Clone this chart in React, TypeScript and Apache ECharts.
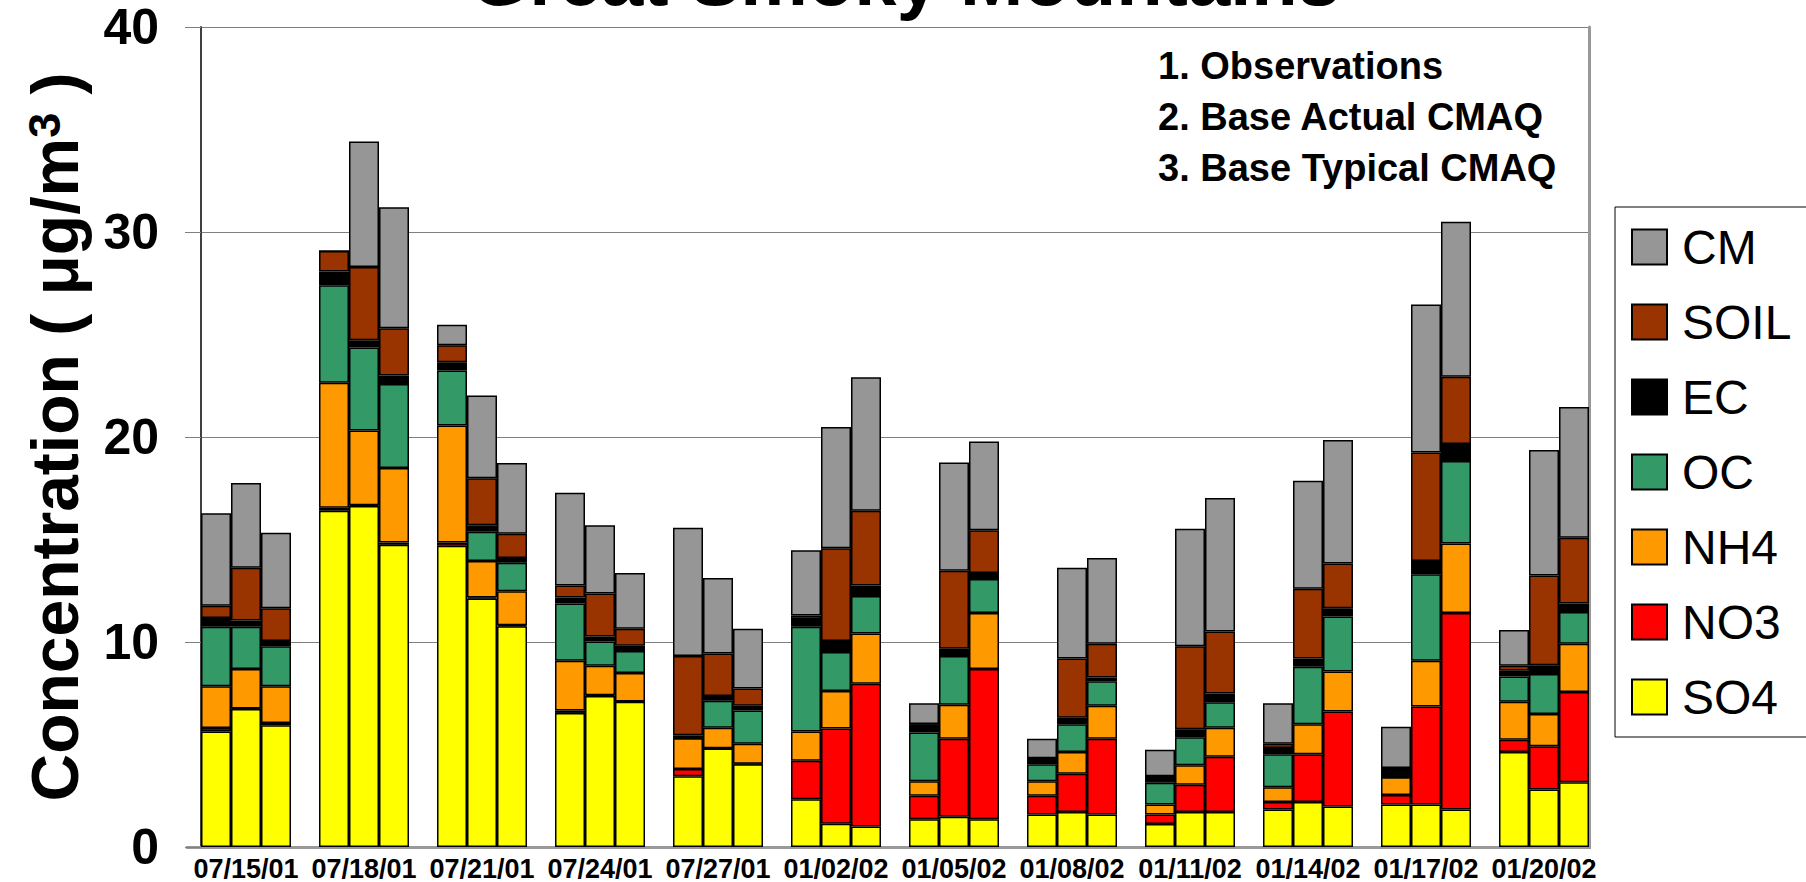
import React, { useEffect, useRef } from "react";
import * as echarts from "echarts";

const DATES = ["07/15/01", "07/18/01", "07/21/01", "07/24/01", "07/27/01", "01/02/02", "01/05/02", "01/08/02", "01/11/02", "01/14/02", "01/17/02", "01/20/02"];
const Y_TICKS = { min: 0, max: 40, interval: 10 };
const RUN_LABELS = ["1. Observations", "2. Base Actual CMAQ", "3. Base Typical CMAQ"];
const COMPONENTS = ["SO4", "NO3", "NH4", "OC", "EC", "SOIL", "CM"];
const LEGEND_ORDER = ["CM", "SOIL", "EC", "OC", "NH4", "NO3", "SO4"];
const COLORS = ["#FFFF00", "#FF0000", "#FF9900", "#339966", "#000000", "#993300", "#969696"];

// Observations
const SO4_OBS = [5.63, 16.4, 14.69, 6.54, 3.45, 2.33, 1.35, 1.59, 1.12, 1.83, 2.07, 4.64];
const NO3_OBS = [0.17, 0.15, 0.16, 0.12, 0.35, 1.88, 1.15, 0.91, 0.47, 0.36, 0.47, 0.59];
const NH4_OBS = [2.04, 6.1, 5.71, 2.42, 1.5, 1.42, 0.71, 0.71, 0.48, 0.73, 0.86, 1.85];
const OC_OBS = [2.9, 4.75, 2.69, 2.8, 0.02, 5.11, 2.38, 0.83, 1.07, 1.6, 0.0, 1.24];
const EC_OBS = [0.43, 0.67, 0.4, 0.29, 0.13, 0.38, 0.4, 0.29, 0.31, 0.31, 0.45, 0.28];
const SOIL_OBS = [0.6, 1.0, 0.83, 0.59, 3.87, 0.17, 0.01, 0.0, 0.0, 0.21, 0.0, 0.24];
const CM_OBS = [4.51, 0.0, 1.0, 4.52, 6.25, 3.19, 1.01, 0.95, 1.3, 1.97, 2.02, 1.74];

// Base Actual CMAQ
const SO4_ACT = [6.73, 16.64, 12.12, 7.37, 4.8, 1.14, 1.47, 1.71, 1.71, 2.19, 2.07, 2.8];
const NO3_ACT = [0.03, 0.03, 0.05, 0.03, 0.02, 4.64, 3.81, 1.86, 1.33, 2.33, 4.78, 2.12];
const NH4_ACT = [1.92, 3.65, 1.78, 1.44, 1.0, 1.83, 1.66, 1.07, 0.95, 1.47, 2.23, 1.57];
const OC_ACT = [2.06, 4.04, 1.43, 1.19, 1.31, 1.9, 2.38, 1.35, 1.36, 2.8, 4.23, 1.95];
const EC_ACT = [0.31, 0.36, 0.31, 0.24, 0.24, 0.54, 0.35, 0.31, 0.4, 0.41, 0.64, 0.43];
const SOIL_ACT = [2.57, 3.57, 2.3, 2.09, 2.07, 4.52, 3.81, 2.9, 4.04, 3.4, 5.3, 4.37];
const CM_ACT = [4.14, 6.13, 4.04, 3.33, 3.68, 5.92, 5.27, 4.42, 5.73, 5.27, 7.21, 6.13];

// Base Typical CMAQ
const SO4_TYP = [5.94, 14.74, 10.77, 7.08, 4.04, 1.0, 1.35, 1.59, 1.71, 1.97, 1.83, 3.16];
const NO3_TYP = [0.11, 0.11, 0.05, 0.02, 0.02, 6.96, 7.33, 3.69, 2.69, 4.64, 9.58, 4.4];
const NH4_TYP = [1.79, 3.64, 1.66, 1.39, 0.98, 2.45, 2.73, 1.61, 1.42, 1.95, 3.4, 2.35];
const OC_TYP = [1.95, 4.09, 1.38, 1.07, 1.62, 1.83, 1.66, 1.19, 1.24, 2.68, 4.02, 1.55];
const EC_TYP = [0.26, 0.42, 0.24, 0.26, 0.23, 0.52, 0.29, 0.19, 0.43, 0.41, 0.83, 0.42];
const SOIL_TYP = [1.6, 2.3, 1.18, 0.83, 0.84, 3.64, 2.09, 1.64, 3.02, 2.18, 3.28, 3.21];
const CM_TYP = [3.68, 5.91, 3.45, 2.71, 2.92, 6.51, 4.33, 4.19, 6.51, 6.02, 7.56, 6.37];

const DATA: Record<string, number[][]> = {
  SO4: [SO4_OBS, SO4_ACT, SO4_TYP],
  NO3: [NO3_OBS, NO3_ACT, NO3_TYP],
  NH4: [NH4_OBS, NH4_ACT, NH4_TYP],
  OC: [OC_OBS, OC_ACT, OC_TYP],
  EC: [EC_OBS, EC_ACT, EC_TYP],
  SOIL: [SOIL_OBS, SOIL_ACT, SOIL_TYP],
  CM: [CM_OBS, CM_ACT, CM_TYP],
};
const STACKS = ["obs", "act", "typ"];

const FONT = "'Liberation Sans', Arial, sans-serif";

export default function App() {
  const ref = useRef<HTMLDivElement>(null);
  useEffect(() => {
    if (!ref.current) return;
    const chart = echarts.init(ref.current, undefined, { renderer: "svg" });
    const series: any[] = [];
    COMPONENTS.forEach((c, i) => {
      STACKS.forEach((s, j) => {
        series.push({
          type: "bar",
          name: c,
          stack: s,
          data: DATA[c][j],
          barWidth: 30,
          barGap: "0%",
          xAxisIndex: 0,
          yAxisIndex: 0,
          itemStyle: { color: COLORS[i], borderColor: "#000", borderWidth: 1.5 },
        });
      });
    });
    chart.setOption({
      animation: false,
      backgroundColor: "#fff",
      textStyle: { fontFamily: FONT },
      grid: { left: 187, right: 203, top: 27, bottom: 35, containLabel: false },
      xAxis: [
        {
          type: "category",
          data: DATES,
          axisLine: { show: true, lineStyle: { color: "#808080", width: 2 } },
          axisTick: { show: false },
          axisLabel: { interval: 0, color: "#000", fontSize: 27, fontWeight: "bold", margin: 8, fontFamily: FONT, hideOverlap: false },
          splitLine: { show: false },
        },
        {
          type: "category",
          data: DATES,
          position: "top",
          axisLine: { show: true, lineStyle: { color: "#999", width: 3 } },
          axisTick: { show: false },
          axisLabel: { show: false },
          splitLine: { show: false },
        },
      ],
      yAxis: [
        {
          type: "value",
          min: Y_TICKS.min,
          max: Y_TICKS.max,
          interval: Y_TICKS.interval,
          offset: -14,
          axisLine: { show: true, lineStyle: { color: "#404040", width: 2 } },
          axisTick: { show: true, length: 16, lineStyle: { color: "#808080", width: 1 } },
          axisLabel: { color: "#000", fontSize: 50, lineHeight: 50, fontWeight: "bold", margin: 42, fontFamily: FONT },
          splitLine: { show: true, lineStyle: { color: "#808080", width: 1 } },
          name: "{a|Concentration ( μg/m}{s|3}{a| )}",
          nameLocation: "middle",
          nameRotate: 90,
          nameGap: 113,
          nameTextStyle: {
            color: "#000",
            fontSize: 66,
            fontWeight: "bold",
            fontFamily: FONT,
            rich: {
              a: { fontSize: 66, lineHeight: 66, fontWeight: "bold", color: "#000", fontFamily: FONT },
              s: { fontSize: 45, lineHeight: 8, fontWeight: "bold", color: "#000", fontFamily: FONT, verticalAlign: "top" },
            },
          },
        },
        {
          type: "value",
          min: Y_TICKS.min,
          max: Y_TICKS.max,
          interval: Y_TICKS.interval,
          position: "right",
          offset: -14,
          axisLine: { show: true, lineStyle: { color: "#999", width: 3 } },
          axisTick: { show: false },
          axisLabel: { show: false },
          splitLine: { show: false },
        },
      ],
      legend: {
        data: LEGEND_ORDER,
        orient: "vertical",
        left: 1615,
        top: 207,
        padding: [16, 80, 16, 16],
        itemWidth: 35,
        itemHeight: 35,
        itemGap: 27,
        icon: "rect",
        selectedMode: false,
        borderColor: "#000",
        borderWidth: 1,
        backgroundColor: "#fff",
        textStyle: { fontSize: 48, color: "#000", fontFamily: FONT, padding: [0, 0, 0, 10] },
      },
      graphic: [
        {
          type: "rect",
          z: 100,
          shape: { x: 1591, y: 0, width: 16, height: 860 },
          style: { fill: "#fff" },
        },
        {
          type: "text",
          z: 101,
          x: 905,
          y: -22,
          style: {
            text: "Great Smoky Mountains",
            fontSize: 76,
            fontWeight: "bold",
            fontFamily: FONT,
            fill: "#000",
            textAlign: "center",
            textVerticalAlign: "middle",
          },
        },
        {
          type: "text",
          z: 101,
          x: 1158,
          y: 40,
          style: {
            text: RUN_LABELS.join("\n"),
            fontSize: 38,
            fontWeight: "bold",
            fontFamily: FONT,
            fill: "#000",
            lineHeight: 51,
            textAlign: "left",
            textVerticalAlign: "top",
          },
        },
      ],
      series,
    });
    return () => chart.dispose();
  }, []);
  return <div ref={ref} style={{ position: "absolute", left: 0, top: 0, width: 1806, height: 882 }} />;
}
